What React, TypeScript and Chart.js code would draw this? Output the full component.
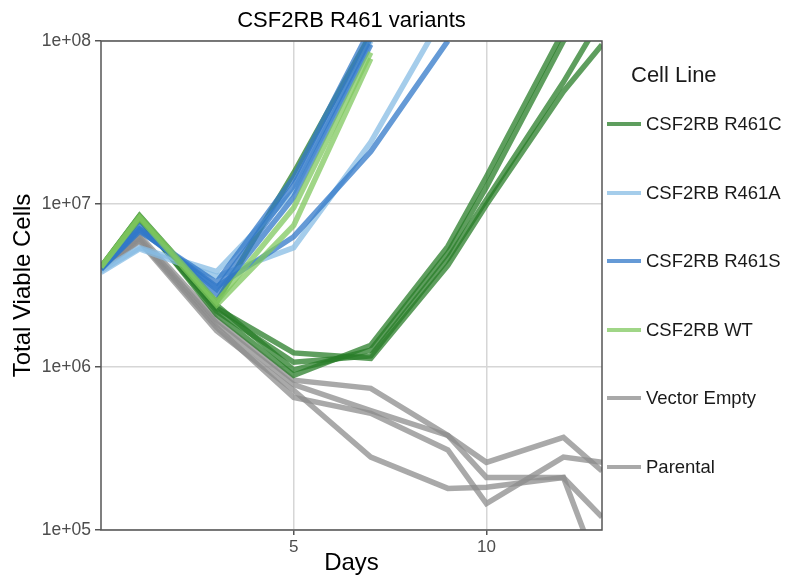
import React, { useEffect, useRef } from "react";
import { Chart, registerables } from "chart.js";

Chart.register(...registerables);

const FONT = "'Liberation Sans', Arial, Helvetica, sans-serif";

// Sampling days
const days = [0, 1, 3, 5, 7, 9, 10, 12, 13];

// CSF2RB R461C replicates
const r461c_1 = [4.1e6, 8.5e6, 2.5e6, 1.55e7, 1.1e8, null, null, null, null];
const r461c_2 = [4.0e6, 8.3e6, 2.3e6, 1.22e6, 1.13e6, 4.2e6, 9.9e6, 4.9e7, 9.5e7];
const r461c_3 = [4.0e6, 8.0e6, 2.2e6, 1.07e6, 1.17e6, 4.6e6, 1.06e7, 5.6e7, 1.4e8];
const r461c_4 = [4.1e6, 8.4e6, 2.4e6, 9.6e5, 1.27e6, 5.0e6, 1.27e7, 1.0e8, 1.9e8];
const r461c_5 = [4.0e6, 8.2e6, 2.1e6, 8.9e5, 1.36e6, 5.5e6, 1.47e7, 1.15e8, 2.5e8];

// CSF2RB R461A replicates
const r461a_1 = [3.9e6, 5.4e6, 3.85e6, 1.2e7, 1.0e8, null, null, null, null];
const r461a_2 = [3.8e6, 5.3e6, 3.6e6, 5.4e6, 2.4e7, 1.6e8, null, null, null];

// CSF2RB R461S replicates
const r461s_1 = [4.0e6, 7.0e6, 3.0e6, 1.3e7, 1.05e8, null, null, null, null];
const r461s_2 = [4.0e6, 7.3e6, 2.8e6, 1.1e7, 9.5e7, null, null, null, null];
const r461s_3 = [4.0e6, 6.8e6, 3.3e6, 1.45e7, 1.2e8, null, null, null, null];
const r461s_4 = [4.0e6, 7.0e6, 3.1e6, 6.3e6, 2.1e7, 1.0e8, null, null, null];

// CSF2RB WT replicates
const wt_1 = [4.1e6, 8.4e6, 2.5e6, 9.5e6, 8.5e7, null, null, null, null];
const wt_2 = [4.1e6, 8.2e6, 2.4e6, 7.4e6, 7.8e7, null, null, null, null];

// Vector Empty replicates
const vectorEmpty_1 = [4.0e6, 6.4e6, 1.95e6, 8.3e5, 7.4e5, 3.8e5, 2.1e5, 2.1e5, 1.2e5];
const vectorEmpty_2 = [4.0e6, 6.2e6, 1.85e6, 7.8e5, 5.4e5, 3.8e5, 2.6e5, 3.7e5, 2.3e5];

// Parental replicates
const parental_1 = [4.0e6, 6.0e6, 1.75e6, 6.5e5, 5.2e5, 3.1e5, 1.45e5, 2.8e5, 2.6e5];
const parental_2 = [4.0e6, 5.9e6, 1.67e6, 7.2e5, 2.8e5, 1.8e5, 1.83e5, 2.1e5, 5.0e4];

// Axis ticks
const xTicks = [5, 10];
const yTicks = [1e5, 1e6, 1e7, 1e8];

// Legend
const legendLabels = ["CSF2RB R461C", "CSF2RB R461A", "CSF2RB R461S", "CSF2RB WT", "Vector Empty", "Parental"];

const cDarkGreen = "rgba(40,125,40,0.75)";
const cLightBlue = "rgba(135,188,228,0.75)";
const cBlue = "rgba(50,120,200,0.75)";
const cLightGreen = "rgba(128,200,95,0.75)";
const cGrey = "rgba(140,140,140,0.75)";
const legendColors = [cDarkGreen, cLightBlue, cBlue, cLightGreen, cGrey, cGrey];

function toPoints(values: (number | null)[]) {
  const pts: { x: number; y: number }[] = [];
  values.forEach((v, i) => {
    if (v !== null) pts.push({ x: days[i], y: v });
  });
  return pts;
}

function mk(label: string, values: (number | null)[], color: string, order: number) {
  return {
    label,
    data: toPoints(values),
    borderColor: color,
    backgroundColor: color,
    borderWidth: 5.5,
    pointRadius: 0,
    pointHoverRadius: 0,
    tension: 0,
    fill: false,
    clip: 0,
    order,
  };
}

const framePlugin = {
  id: "frame",
  afterDraw(chart: any) {
    const { ctx, chartArea } = chart;
    ctx.save();
    ctx.strokeStyle = "#555555";
    ctx.lineWidth = 1.5;
    ctx.strokeRect(chartArea.left, chartArea.top, chartArea.right - chartArea.left, chartArea.bottom - chartArea.top);
    ctx.restore();
  },
};

export default function App() {
  const ref = useRef<HTMLCanvasElement>(null);

  useEffect(() => {
    Chart.defaults.font.family = FONT;
    const datasets = [
      mk("CSF2RB WT", wt_1, cLightGreen, 1),
      mk("CSF2RB WT", wt_2, cLightGreen, 1),
      mk("CSF2RB R461S", r461s_1, cBlue, 2),
      mk("CSF2RB R461S", r461s_2, cBlue, 2),
      mk("CSF2RB R461S", r461s_3, cBlue, 2),
      mk("CSF2RB R461S", r461s_4, cBlue, 2),
      mk("CSF2RB R461A", r461a_1, cLightBlue, 3),
      mk("CSF2RB R461A", r461a_2, cLightBlue, 3),
      mk("CSF2RB R461C", r461c_1, cDarkGreen, 4),
      mk("CSF2RB R461C", r461c_2, cDarkGreen, 4),
      mk("CSF2RB R461C", r461c_3, cDarkGreen, 4),
      mk("CSF2RB R461C", r461c_4, cDarkGreen, 4),
      mk("CSF2RB R461C", r461c_5, cDarkGreen, 4),
      mk("Vector Empty", vectorEmpty_1, cGrey, 5),
      mk("Vector Empty", vectorEmpty_2, cGrey, 5),
      mk("Parental", parental_1, cGrey, 5),
      mk("Parental", parental_2, cGrey, 5),
    ];

    const chart = new Chart(ref.current as HTMLCanvasElement, {
      type: "line",
      data: { datasets: datasets as any },
      plugins: [framePlugin],
      options: {
        animation: false,
        responsive: false,
        devicePixelRatio: 1,
        layout: { padding: { left: 0, top: 0, bottom: 0, right: 183 } },
        plugins: {
          legend: { display: false },
          tooltip: { enabled: false },
          title: {
            display: true,
            text: "CSF2RB R461 variants",
            fullSize: false,
            color: "#000000",
            font: { size: 22, weight: "normal", family: FONT },
            padding: { top: 8, bottom: 6.6 },
          },
        },
        scales: {
          x: {
            type: "linear",
            min: 0,
            max: 13,
            afterBuildTicks: (s: any) => {
              s.ticks = xTicks.map((v) => ({ value: v }));
            },
            afterFit: (s: any) => {
              s.height = 48;
            },
            ticks: {
              color: "#4d4d4d",
              font: { size: 17, family: FONT },
              padding: 2,
              maxRotation: 0,
              callback: (v: any) => String(v),
            },
            grid: { color: "#d6d6d6", lineWidth: 1.5, tickColor: "#555555", tickLength: 5 },
            border: { display: false },
            title: {
              display: true,
              text: "Days",
              color: "#000000",
              font: { size: 24, family: FONT },
              padding: { top: 0, bottom: 0 },
            },
          },
          y: {
            type: "logarithmic",
            min: 1e5,
            max: 1e8,
            afterBuildTicks: (s: any) => {
              s.ticks = yTicks.map((v) => ({ value: v }));
            },
            afterFit: (s: any) => {
              s.width = 101;
            },
            ticks: {
              color: "#4d4d4d",
              font: { size: 17.5, family: FONT },
              padding: 4,
              callback: (v: any) => "1e+0" + Math.round(Math.log10(Number(v))),
            },
            grid: { color: "#d6d6d6", lineWidth: 1.5, tickColor: "#555555", tickLength: 6 },
            border: { display: false },
            title: {
              display: true,
              text: "Total Viable Cells",
              color: "#000000",
              font: { size: 24, family: FONT },
              padding: { top: 9, bottom: 0 },
            },
          },
        },
      } as any,
    });
    return () => chart.destroy();
  }, []);

  return (
    <div style={{ position: "absolute", left: 0, top: 0, width: 785, height: 578, background: "#ffffff", fontFamily: FONT }}>
      <canvas ref={ref} width={785} height={578} style={{ display: "block" }} />
      <div style={{ position: "absolute", left: 631, top: 64, fontSize: 22, lineHeight: "22px", color: "#1a1a1a", whiteSpace: "nowrap" }}>
        Cell Line
      </div>
      {legendLabels.map((lab, i) => (
        <div
          key={lab}
          style={{
            position: "absolute",
            left: 607,
            top: 124 + i * 68.6 - 12,
            height: 24,
            display: "flex",
            alignItems: "center",
            whiteSpace: "nowrap",
          }}
        >
          <span style={{ width: 34, height: 4, background: legendColors[i], display: "inline-block" }} />
          <span style={{ marginLeft: 5, fontSize: 18.5, lineHeight: "24px", color: "#1a1a1a" }}>{lab}</span>
        </div>
      ))}
    </div>
  );
}
